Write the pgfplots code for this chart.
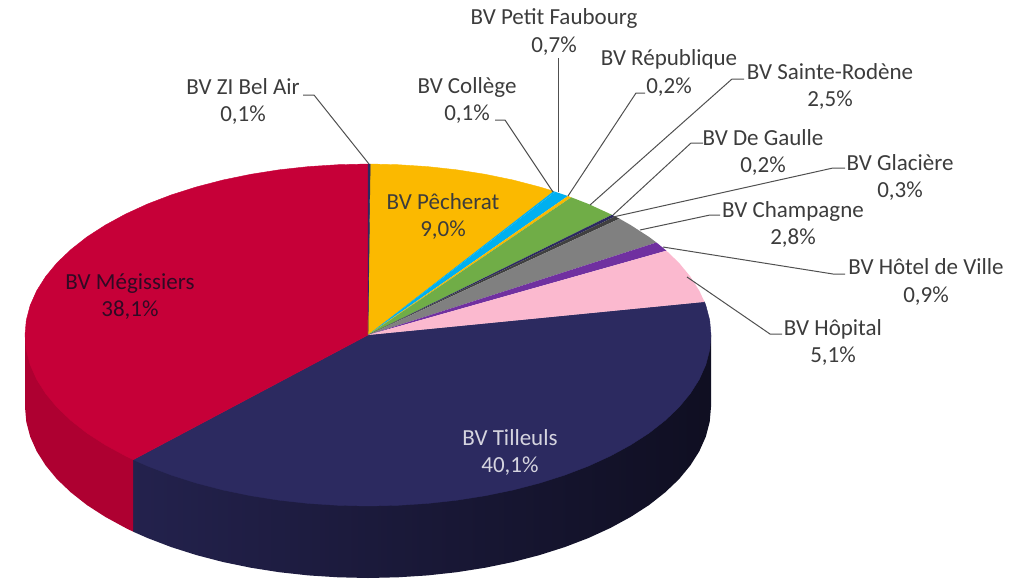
\documentclass[border=0pt]{standalone}
\usepackage{fontspec}
\usepackage{pgfplots}
\pgfplotsset{compat=1.18}
\setmainfont{Carlito}

\definecolor{meg}{HTML}{C60038}
\definecolor{til}{HTML}{2C2A60}
\definecolor{pec}{HTML}{FBB900}
\definecolor{fau}{HTML}{00B0F0}
\definecolor{rod}{HTML}{70AD47}
\definecolor{gla}{HTML}{404040}
\definecolor{cha}{HTML}{808080}
\definecolor{hot}{HTML}{7030A0}
\definecolor{hop}{HTML}{FBB9CF}
\definecolor{txt}{HTML}{3C3C3C}
\definecolor{ldr}{HTML}{505050}
\definecolor{megtxt}{HTML}{300A24}

% 1 unit = 1 pixel of the 1030x580 picture, y pointing down
\newcommand{\lab}[5][txt]{\node[font=\fontsize{11.5}{13.7}\selectfont, text=#1, align=center, inner sep=0pt]
  at (axis cs:#2,#3) {#4\\#5};}

\begin{document}
\begin{tikzpicture}
\begin{axis}[
  scale only axis, width=515pt, height=290pt,
  xmin=0, xmax=1030, ymin=0, ymax=580,
  y dir=reverse, hide axis, clip=false,
  every axis plot/.append style={mark=none, forget plot},
  leader/.style={draw=ldr, line width=0.5pt, mark=none, forget plot},
]
% keep the whole frame in the bounding box
\path (rel axis cs:0,0) -- (rel axis cs:1,1);

% --- side walls ---
\addplot[draw=none, left color=til!80!black, middle color=til!40!black, right color=til!35!black] coordinates {
  (711,335)(711,407)(709.7,421.9)(705.8,436.7)(699.3,451.3)(690.3,465.5)(678.9,479.3)(665,492.5)
  (649,505.1)(630.7,516.9)(610.5,527.9)(588.5,538)(564.7,547.1)(539.5,555.1)(513,562)(485.3,567.7)
  (456.8,572.2)(427.6,575.4)(397.9,577.3)(368,578)(338.1,577.3)(308.4,575.4)(279.2,572.2)(250.7,567.7)
  (223,562)(196.5,555.1)(171.3,547.1)(147.5,538)(133.2,531.7)(133.2,459.7)};
\addplot[draw=none, fill=meg!88!black] coordinates {
  (133.2,459.7)(133.2,531.7)(125.5,527.9)(105.3,516.9)(87,505.1)(71,492.5)(57.1,479.3)(45.7,465.5)
  (36.7,451.3)(30.2,436.7)(26.3,421.9)(25,407)(25,335)};

% --- top face, clockwise from 12 o'clock ---
% BV Tilleuls 40,1
\addplot[fill=til, draw=til, line width=0.2pt] coordinates {
  (368,335)(704.5,301.9)(705.8,305.3)(709.7,320.1)(711,335)(709.7,349.9)(705.8,364.7)(699.3,379.3)
  (690.3,393.5)(678.9,407.3)(665,420.5)(649,433.1)(630.7,444.9)(610.5,455.9)(588.5,466)(564.7,475.1)
  (539.5,483.1)(513,490)(485.3,495.7)(456.8,500.2)(427.6,503.4)(397.9,505.3)(368,506)(338.1,505.3)
  (308.4,503.4)(279.2,500.2)(250.7,495.7)(223,490)(196.5,483.1)(171.3,475.1)(147.5,466)(133.2,459.7)(368,335)};
% BV Mégissiers 38,1
\addplot[fill=meg, draw=meg, line width=0.2pt] coordinates {
  (368,335)(133.2,459.7)(125.5,455.9)(105.3,444.9)(87,433.1)(71,420.5)(57.1,407.3)(45.7,393.5)
  (36.7,379.3)(30.2,364.7)(26.3,349.9)(25,335)(26.3,320.1)(30.2,305.3)(36.7,290.7)(45.7,276.5)
  (57.1,262.7)(71,249.5)(87,236.9)(105.3,225.1)(125.5,214.1)(147.5,204)(171.3,194.9)(196.5,186.9)
  (223,180)(250.7,174.3)(279.2,169.8)(308.4,166.6)(338.1,164.7)(368,164)(368,335)};
% BV Pêcherat 9,0
\addplot[fill=pec, draw=pec, line width=0.2pt] coordinates {
  (368,335)(370.2,164)(397.9,164.7)(427.6,166.6)(456.8,169.8)(485.3,174.3)(513,180)(539.5,186.9)(553.6,191.2)(368,335)};
% BV ZI Bel Air 0,1
\addplot[fill=til, draw=til, line width=0.2pt] coordinates {(368,335)(368,164)(370.2,164)(368,335)};
% BV Collège 0,1 and BV Petit Faubourg 0,7
\addplot[fill=fau, draw=none] coordinates {(368,335)(553.6,191.2)(555.4,191.8)(368,335)};
\addplot[fill=fau, draw=none] coordinates {(368,335)(555.4,191.8)(564.7,194.9)(567.9,196)(368,335)};
% BV République 0,2
\addplot[fill=pec, draw=none] coordinates {(368,335)(567.9,196)(571.3,197.3)(368,335)};
% BV Sainte-Rodène 2,5
\addplot[fill=rod, draw=none] coordinates {(368,335)(571.3,197.3)(588.5,204)(610.5,214.1)(612,214.8)(368,335)};
% BV De Gaulle 0,2
\addplot[fill=til, draw=none] coordinates {(368,335)(612,214.8)(615.1,216.4)(368,335)};
% BV Glacière 0,3
\addplot[fill=gla, draw=none] coordinates {(368,335)(615.1,216.4)(619.5,218.7)(368,335)};
% BV Champagne 2,8
\addplot[fill=cha, draw=none] coordinates {(368,335)(619.5,218.7)(630.7,225.1)(649,236.9)(656.5,242.5)(368,335)};
% BV Hôtel de Ville 0,9
\addplot[fill=hot, draw=none] coordinates {(368,335)(656.5,242.5)(665,249.5)(666.4,250.7)(368,335)};
% BV Hôpital 5,1
\addplot[fill=hop, draw=none] coordinates {(368,335)(666.4,250.7)(678.9,262.7)(690.3,276.5)(699.3,290.7)(704.5,301.9)(368,335)};

% --- leader lines ---
\addplot[leader] coordinates {(303,95)(314,95)(369,164)};
\addplot[leader] coordinates {(495,120)(505,120)(553,192)};
\addplot[leader] coordinates {(558,58)(558,192)};
\addplot[leader] coordinates {(645,93)(636,93)(568,196)};
\addplot[leader] coordinates {(744,79)(732,79)(590,205)};
\addplot[leader] coordinates {(703,143)(691,143)(613,215)};
\addplot[leader] coordinates {(845,168)(833,168)(613,217)};
\addplot[leader] coordinates {(720,215)(710,215)(640,230)};
\addplot[leader] coordinates {(845,274)(833,274)(663,247)};
\addplot[leader] coordinates {(782,334)(770,334)(687,277)};

% --- labels ---
\lab{243}{101.5}{BV ZI Bel Air}{0,1\%}
\lab{467}{100.5}{BV Collège}{0,1\%}
\lab{554}{32}{BV Petit Faubourg}{0,7\%}
\lab{669}{73}{BV République}{0,2\%}
\lab{830}{86.5}{BV Sainte-Rodène}{2,5\%}
\lab{763}{152.5}{BV De Gaulle}{0,2\%}
\lab{900}{177.5}{BV Glacière}{0,3\%}
\lab{793}{224.5}{BV Champagne}{2,8\%}
\lab{926}{282}{BV Hôtel de Ville}{0,9\%}
\lab{833}{342.5}{BV Hôpital}{5,1\%}
\lab{443}{216.5}{BV Pêcherat}{9,0\%}
\lab[megtxt]{130}{296.5}{BV Mégissiers}{38,1\%}
\lab[white!80!til]{510}{452.5}{BV Tilleuls}{40,1\%}
\end{axis}
\end{tikzpicture}
\end{document}
